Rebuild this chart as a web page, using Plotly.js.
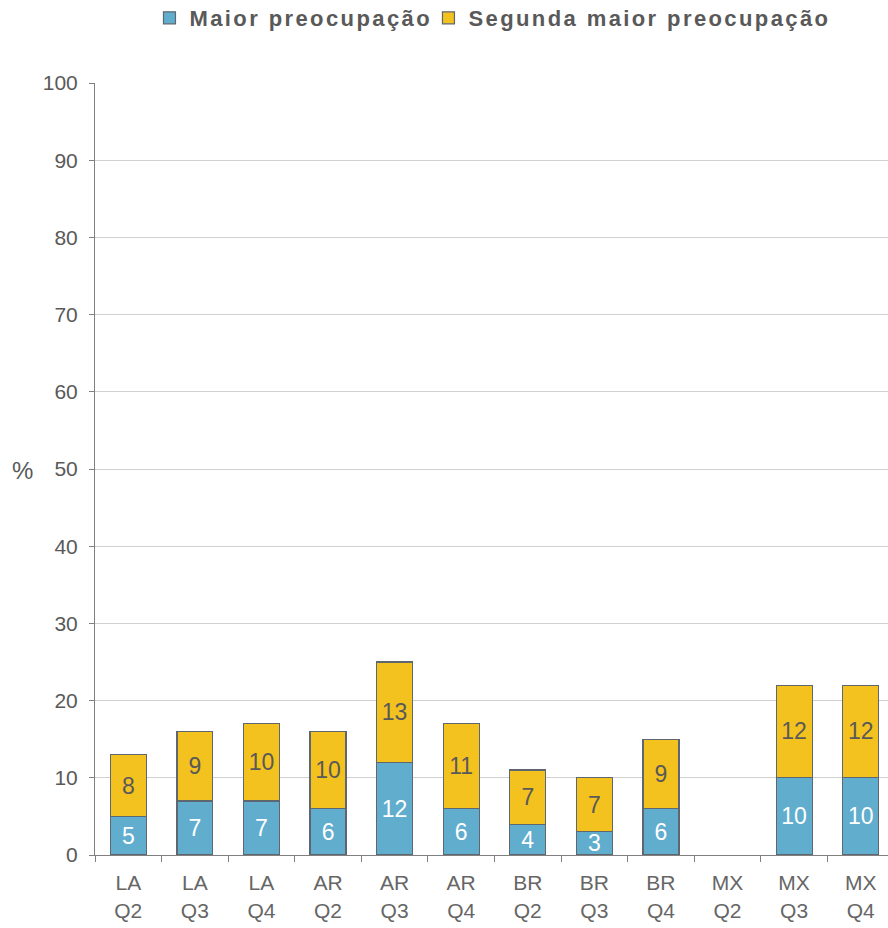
<!DOCTYPE html>
<html>
<head>
<meta charset="utf-8">
<script src="https://cdn.plot.ly/plotly-3.0.1.min.js"></script>
<style>
html,body{margin:0;padding:0;background:#fff;}
#chart{width:888px;height:928px;}
#chart .legendtext,
#chart .infolayer .legend text,
#chart .infolayer .legend2 text,
#chart .infolayer g[class*="legend"] text{letter-spacing:2.4px;}
</style>
</head>
<body>
<div id="chart"></div>
<script>
const categories = ["LA<br>Q2","LA<br>Q3","LA<br>Q4","AR<br>Q2","AR<br>Q3","AR<br>Q4","BR<br>Q2","BR<br>Q3","BR<br>Q4","MX<br>Q2","MX<br>Q3","MX<br>Q4"];
const maior = [5, 7, 7, 6, 12, 6, 4, 3, 6, null, 10, 10];
const segunda = [8, 9, 10, 10, 13, 11, 7, 7, 9, null, 12, 12];
const seriesNames = ["Maior preocupação", "Segunda maior preocupação"];
const yTicks = [0,10,20,30,40,50,60,70,80,90,100];

const FONT = "Liberation Sans, Arial, sans-serif";
const txt = arr => arr.map(v => v == null ? "" : String(v));

const common = {
  type: "bar",
  x: categories,
  textposition: "inside",
  insidetextanchor: "middle",
  textangle: 0,
  constraintext: "none",
  hoverinfo: "skip"
};

const traces = [
  Object.assign({}, common, {
    name: seriesNames[0],
    legend: "legend",
    y: maior,
    text: txt(maior),
    marker: {color: "#60ADCE", line: {color: "#5E6670", width: 1.2}},
    insidetextfont: {family: FONT, size: 23, color: "#FFFFFF"}
  }),
  Object.assign({}, common, {
    name: seriesNames[1],
    legend: "legend2",
    y: segunda,
    text: txt(segunda),
    marker: {color: "#F4C21F", line: {color: "#5E6670", width: 1.2}},
    insidetextfont: {family: FONT, size: 23, color: "#595959"}
  })
];

const legendBase = {
  orientation: "h",
  y: 1.1114, yanchor: "top",
  xanchor: "left",
  font: {family: FONT, size: 22, color: "#595959", weight: "bold"},
  itemwidth: 30,
  entrywidthmode: "pixels",
  bgcolor: "rgba(0,0,0,0)"
};

const layout = {
  width: 888,
  height: 928,
  margin: {l: 95, r: 0, t: 83, b: 73, autoexpand: false},
  barmode: "stack",
  bargap: 0.46,
  paper_bgcolor: "#fff",
  plot_bgcolor: "#fff",
  font: {family: FONT, color: "#595959"},
  showlegend: true,
  legend: Object.assign({}, legendBase, {x: 0.0687, entrywidth: 250}),
  legend2: Object.assign({}, legendBase, {x: 0.4205, entrywidth: 380}),
  xaxis: {
    type: "category",
    range: [-0.5, 11.41],
    tickson: "boundaries",
    ticks: "outside",
    ticklen: 6,
    tickcolor: "#808080",
    showline: true,
    linecolor: "#808080",
    linewidth: 1,
    showgrid: false,
    ticklabelstandoff: 9,
    tickfont: {family: FONT, size: 21, color: "#666666"},
    fixedrange: true
  },
  yaxis: {
    range: [0, 100],
    tickvals: yTicks,
    ticks: "outside",
    ticklen: 5,
    tickcolor: "#808080",
    showline: true,
    linecolor: "#808080",
    linewidth: 1,
    showgrid: true,
    gridcolor: "#D0D0D0",
    gridwidth: 1,
    zeroline: false,
    ticklabelstandoff: 7,
    tickfont: {family: FONT, size: 21, color: "#595959"},
    fixedrange: true
  },
  annotations: [{
    text: "%",
    xref: "paper", yref: "paper",
    x: (22 - 95) / 793, y: 0.4987,
    xanchor: "center", yanchor: "middle",
    showarrow: false,
    font: {family: FONT, size: 24, color: "#595959"}
  }]
};

function spaceLegendText() {
  document.querySelectorAll('#chart .infolayer g[class*="legend"] text, #chart text.legendtext').forEach(t => {
    t.style.letterSpacing = "2.4px";
    t.setAttribute("letter-spacing", "2.4");
  });
}

Plotly.newPlot("chart", traces, layout, {staticPlot: true, displayModeBar: false}).then(gd => {
  spaceLegendText();
  gd.on("plotly_afterplot", spaceLegendText);
});
</script>
</body>
</html>
